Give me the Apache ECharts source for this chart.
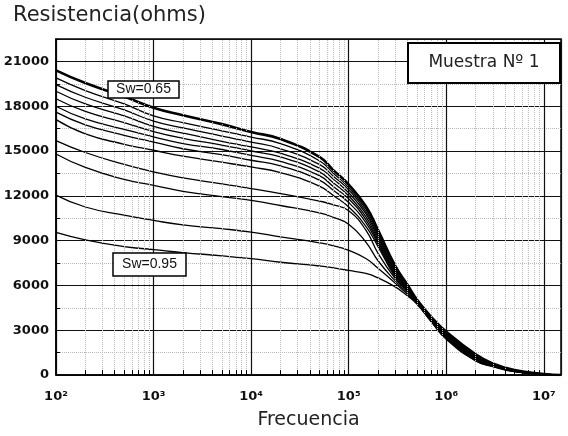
<!DOCTYPE html>
<html>
<head>
<meta charset="utf-8">
<script src="https://cdn.jsdelivr.net/npm/echarts@6/dist/echarts.min.js"></script>
<style>
    html, body { margin: 0; padding: 0; background: #fff; }
    #chart { width: 568px; height: 436px; }
</style>
</head>
<body>
<div id="chart"></div>
<script>
    // frecuencias (Hz) donde se leyeron las curvas
    var freq = [100, 200, 500, 1e3, 2e3, 5e3, 1e4, 2e4, 5e4, 7e4, 1e5, 1.5e5, 2e5, 3e5, 4e5, 5e5, 7e5, 1e6, 2e6, 3e6, 5e6, 1e7, 1.5e7];

    // resistencia (ohms), de Sw=0.65 (arriba) a Sw=0.95 (abajo)
    var curva1  = [20400, 19550, 18650, 17900, 17400, 16800, 16270, 15800, 14600, 13700, 12750, 11300, 9700, 7300, 6050, 5050, 3900, 2900, 1380, 780, 330, 70, 0];
    var curva2  = [19900, 19050, 18150, 17350, 16900, 16350, 15930, 15500, 14350, 13500, 12550, 11100, 9500, 7150, 5950, 5000, 3870, 2850, 1340, 760, 320, 65, 0];
    var curva3  = [19450, 18600, 17750, 17000, 16550, 16000, 15600, 15150, 14100, 13300, 12400, 10950, 9350, 7050, 5900, 4980, 3840, 2800, 1300, 740, 310, 60, 0];
    var curva4  = [19000, 18150, 17350, 16650, 16200, 15650, 15270, 14850, 13850, 13100, 12200, 10800, 9200, 6950, 5850, 4950, 3810, 2750, 1260, 720, 300, 60, 0];
    var curva5  = [18500, 17650, 16900, 16300, 15850, 15400, 15000, 14600, 13600, 12850, 12000, 10600, 9050, 6850, 5800, 4930, 3780, 2700, 1220, 700, 290, 55, 0];
    var curva6  = [18000, 17150, 16450, 15950, 15500, 15100, 14700, 14300, 13350, 12600, 11800, 10400, 8900, 6750, 5750, 4900, 3750, 2650, 1180, 680, 280, 55, 0];
    var curva7  = [17600, 16750, 16050, 15600, 15150, 14750, 14380, 14000, 13050, 12350, 11550, 10200, 8750, 6650, 5700, 4880, 3720, 2600, 1140, 660, 270, 50, 0];
    var curva8  = [17100, 16150, 15450, 15050, 14650, 14250, 13930, 13550, 12650, 12000, 11250, 9950, 8600, 6550, 5650, 4860, 3690, 2560, 1100, 640, 260, 50, 0];
    var curva9  = [15700, 14900, 14100, 13600, 13200, 12800, 12480, 12150, 11650, 11400, 11000, 9700, 8150, 6450, 5600, 4840, 3660, 2520, 1060, 620, 250, 45, 0];
    var curva10 = [14800, 13900, 13100, 12700, 12300, 11950, 11690, 11350, 10850, 10550, 10100, 8900, 7650, 6300, 5500, 4820, 3630, 2480, 1020, 600, 240, 45, 0];
    var curva11 = [12050, 11250, 10700, 10350, 10050, 9800, 9570, 9250, 8850, 8650, 8350, 7800, 7150, 6150, 5400, 4800, 3600, 2440, 980, 580, 230, 40, 0];
    var curva12 = [9550, 9050, 8600, 8400, 8200, 7980, 7790, 7550, 7300, 7180, 7000, 6800, 6500, 5900, 5300, 4750, 3570, 2400, 940, 560, 220, 40, 0];

    var curvas = [curva1, curva2, curva3, curva4, curva5, curva6, curva7, curva8, curva9, curva10, curva11, curva12];

    // etiquetas de ejes
    var xTickLabels = ['10\u00b2', '10\u00b3', '10\u2074', '10\u2075', '10\u2076', '10\u2077'];
    var xDecadas = [100, 1000, 10000, 100000, 1000000];
    var xPasosMenores = [2, 3, 4, 5, 6, 7, 8, 9];

    var chart = echarts.init(document.getElementById('chart'));

    // rejilla menor vertical (punteada) y marcas menores del eje x
    var rejillaMenor = [];
    var marcasMenores = [];
    xDecadas.forEach(function (d) {
        xPasosMenores.forEach(function (p) {
            rejillaMenor.push({ xAxis: d * p });
            marcasMenores.push([{ coord: [d * p, 0] }, { coord: [d * p, 330] }]);
        });
    });

    var series = curvas.map(function (vals, i) {
        return {
            name: 'curva' + (i + 1),
            type: 'line',
            data: freq.map(function (f, j) { return [f, vals[j]]; }),
            showSymbol: false,
            smooth: 0.5,
            lineStyle: { color: '#000', width: i === 0 ? 2.6 : 1.3 },
            z: 3
        };
    });
    series[0].markLine = {
        silent: true, symbol: ['none', 'none'], label: { show: false }, animation: false,
        lineStyle: { type: 'dotted', color: '#bbb', width: 1 },
        data: rejillaMenor
    };
    series[1].markLine = {
        silent: true, symbol: ['none', 'none'], label: { show: false }, animation: false,
        lineStyle: { type: 'solid', color: '#000', width: 1 },
        data: marcasMenores
    };

    chart.setOption({
        animation: false,
        title: {
            text: 'Resistencia(ohms)',
            left: 8,
            top: 0,
            padding: [5, 5],
            textStyle: { fontFamily: 'DejaVu Sans', fontSize: 21, fontWeight: 'normal', color: '#222' }
        },
        grid: {
            left: 56, right: 7, top: 39, bottom: 61,
            show: true, borderColor: '#000', borderWidth: 1.5,
            outerBoundsMode: 'none'
        },
        xAxis: {
            type: 'log',
            logBase: 10,
            min: 100,
            max: 15000000,
            name: 'Frecuencia',
            nameLocation: 'middle',
            nameGap: 36,
            nameTextStyle: { fontFamily: 'DejaVu Sans', fontSize: 19, color: '#222' },
            axisLine: { show: true, lineStyle: { color: '#000', width: 1.5 } },
            axisTick: { show: true, inside: true, length: 5, lineStyle: { color: '#000' } },
            minorTick: { show: false },
            splitLine: { show: true, lineStyle: { color: '#111', width: 1.2 } },
            axisLabel: {
                showMaxLabel: false,
                margin: 15,
                fontFamily: 'DejaVu Sans', fontSize: 13, fontWeight: 'bold', color: '#111',
                formatter: function (v) {
                    var e = Math.round(Math.log(v) / Math.LN10);
                    if (Math.abs(Math.log(v) / Math.LN10 - e) > 1e-6) return '';
                    return xTickLabels[e - 2] || '';
                }
            }
        },
        yAxis: {
            type: 'value',
            min: 0,
            max: 22500,
            interval: 3000,
            axisLine: { show: true, lineStyle: { color: '#000', width: 1.5 } },
            axisTick: { show: true, inside: true, length: 4, lineStyle: { color: '#000' } },
            minorTick: { show: true, splitNumber: 2, length: 4, lineStyle: { color: '#000' } },
            splitLine: { show: true, lineStyle: { color: '#111', width: 1.2 } },
            minorSplitLine: { show: true, lineStyle: { color: '#bbb', type: 'dotted', width: 1 } },
            axisLabel: {
                showMaxLabel: false,
                margin: 7,
                fontFamily: 'DejaVu Sans', fontSize: 13, fontWeight: 'bold', color: '#111',
                formatter: function (v) { return String(v); }
            }
        },
        graphic: [
            { type: 'rect', z: 100, shape: { x: 408, y: 43, width: 152, height: 40 },
              style: { fill: '#fff', stroke: '#000', lineWidth: 2 } },
            { type: 'text', z: 101, x: 484, y: 63,
              style: { text: 'Muestra N\u00ba 1', align: 'center', verticalAlign: 'middle',
                       fontFamily: 'DejaVu Sans', fontSize: 17, fill: '#222' } },
            { type: 'rect', z: 100, shape: { x: 108, y: 81, width: 71, height: 17 },
              style: { fill: '#fff', stroke: '#000', lineWidth: 1.5 } },
            { type: 'text', z: 101, x: 143.5, y: 89.5,
              style: { text: 'Sw=0.65', align: 'center', verticalAlign: 'middle',
                       fontFamily: 'Liberation Sans', fontSize: 14, fill: '#111' } },
            { type: 'rect', z: 100, shape: { x: 113, y: 253, width: 73, height: 23 },
              style: { fill: '#fff', stroke: '#000', lineWidth: 1.5 } },
            { type: 'text', z: 101, x: 149.5, y: 264.5,
              style: { text: 'Sw=0.95', align: 'center', verticalAlign: 'middle',
                       fontFamily: 'Liberation Sans', fontSize: 14, fill: '#111' } }
        ],
        series: series
    });
</script>
</body>
</html>
